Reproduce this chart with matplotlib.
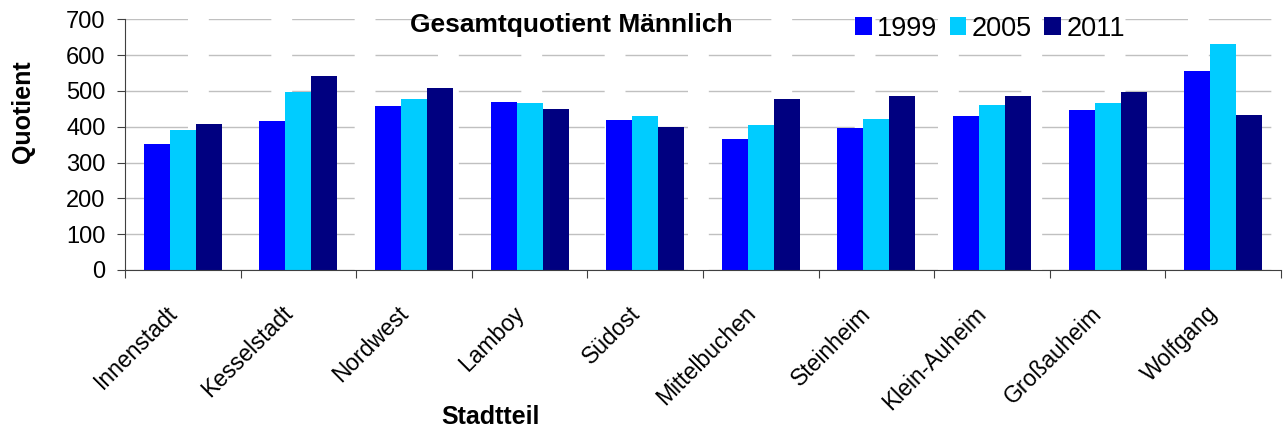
import matplotlib
matplotlib.use('Agg')
import matplotlib.pyplot as plt
import numpy as np
from matplotlib.transforms import ScaledTranslation

plt.rcParams['font.family'] = ['Liberation Sans', 'DejaVu Sans']

stadtteile = ['Innenstadt', 'Kesselstadt', 'Nordwest', 'Lamboy', 'Südost',
              'Mittelbuchen', 'Steinheim', 'Klein-Auheim', 'Großauheim', 'Wolfgang']
jahre = ['1999', '2005', '2011']
q1999 = [352, 416, 458, 469, 419, 366, 397, 430, 447, 556]
q2005 = [391, 497, 477, 466, 430, 405, 422, 461, 466, 631]
q2011 = [408, 542, 508, 450, 399, 477, 486, 486, 497, 433]
farben = ['#0000FF', '#00CCFF', '#000080']

fig = plt.figure(figsize=(12.88, 4.34), dpi=100)
ax = fig.add_axes([0.097, 0.378, 0.8976, 0.5775])

x = np.arange(len(stadtteile))
w = 0.225
for i, (werte, jahr, farbe) in enumerate(zip([q1999, q2005, q2011], jahre, farben)):
    ax.bar(x + (i - 1) * w, werte, w, color=farbe, label=jahr, zorder=2)

ax.set_xlim(-0.5, len(stadtteile) - 0.5)
ax.set_ylim(0, 700)
ax.set_yticks(range(0, 701, 100))
ax.tick_params(axis='y', labelsize=17, length=6, direction='out', color='#404040', pad=8)

# Ticks at category borders, labels at the centres
ax.set_xticks(np.arange(len(stadtteile) + 1) - 0.5)
ax.set_xticklabels([])
ax.set_xticks(x, minor=True)
ax.set_xticklabels(stadtteile, minor=True, rotation=45, ha='right', va='top',
                   rotation_mode='anchor', fontsize=16.5)
ax.tick_params(axis='x', which='major', length=6, direction='out', color='#404040')
ax.tick_params(axis='x', which='minor', length=0, pad=23)
for lab in ax.get_xticklabels(minor=True):
    lab.set_transform(lab.get_transform() + ScaledTranslation(-0.17, 0, fig.dpi_scale_trans))

ax.yaxis.grid(True, color='#c0c0c0', linewidth=1, linestyle=(0, (45, 15)), zorder=0)
ax.set_axisbelow(True)
for s in ['top', 'right']:
    ax.spines[s].set_visible(False)
for s in ['left', 'bottom']:
    ax.spines[s].set_color('#404040')

ax.set_ylabel('Quotient', fontsize=18, fontweight='bold')
ax.yaxis.set_label_coords(-0.078, 0.63)
ax.set_xlabel('Stadtteil', fontsize=18, fontweight='bold')
ax.xaxis.set_label_coords(0.316, -0.54)

ax.text(0.386, 0.978, 'Gesamtquotient Männlich', transform=ax.transAxes,
        ha='center', va='center', fontsize=19, fontweight='bold')

ax.legend(ncol=3, frameon=False, fontsize=19.5, loc='center left',
          bbox_to_anchor=(855 / 1288, 1 - 28.5 / 434), bbox_transform=fig.transFigure,
          handlelength=0.62, handleheight=0.62, handletextpad=0.2,
          columnspacing=0.45, borderpad=0, borderaxespad=0)

fig.savefig('out.png', dpi=100)
